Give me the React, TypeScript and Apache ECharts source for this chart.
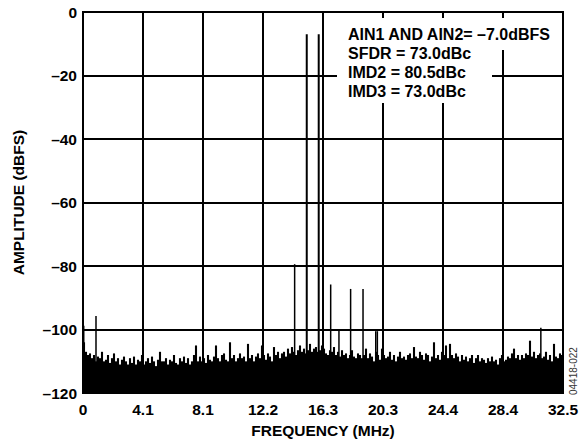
import React, { useEffect, useRef } from "react";
import * as echarts from "echarts";

// Frequency axis (MHz): 0 .. fs/2 with 8 divisions
const FREQ_MAX = 32.5;
const FREQ_TICKS = ["0", "4.1", "8.1", "12.2", "16.3", "20.3", "24.4", "28.4", "32.5"];
const AMP_TICKS = ["–120", "–100", "–80", "–60", "–40", "–20", "0"];

// Noise floor of the FFT (dBFS), one value per displayed bin group
const NOISE_DB = [
  -104, -107, -108, -107.5, -109, -108, -110, -108.5, -109, -107, -110, -109.5, -108, -110.5, -109, -107.5, -110, -109, -111, -109.5,
  -108.5, -110, -111, -109, -110.5, -108.5, -111, -109.5, -110, -108, -111, -110, -109, -110.5, -108.5, -110, -111.5, -109.5, -107, -110,
  -110, -109, -111, -109.5, -110, -108, -110.5, -111, -109, -110, -108.5, -110.5, -109, -111, -110, -108, -105, -110, -108.5, -110,
  -109, -110.5, -108, -109.5, -110, -108.5, -105, -109, -110, -108, -107.5, -109.5, -110, -104, -109, -108, -110, -109, -107.5, -109,
  -108.5, -110, -104.5, -109, -108, -110, -108.5, -107.5, -109, -105, -108, -109.5, -107.5, -108.5, -110, -105.5, -108, -107, -109, -107.5,
  -107, -108.5, -106, -107.5, -105.5, -107, -108, -106.5, -105, -107, -106, -107.5, -106.5, -104.5, -107, -106, -105.5, -107, -106.5, -105,
  -106, -107.5, -108, -106.5, -107, -105.5, -108, -107, -108.5, -106.5, -108, -107.5, -109, -108, -106.5, -108.5, -109, -107.5, -108, -109,
  -108, -106, -109, -107.5, -108.5, -110, -107, -108, -109.5, -106, -108, -109, -108.5, -107, -109.5, -108, -110, -108.5, -107, -109,
  -108.5, -109.5, -108, -107.5, -109, -105.5, -108.5, -109, -107, -108, -109.5, -107.5, -108, -110, -108.5, -104, -109, -108, -109.5, -107,
  -108, -105, -109, -104.5, -108, -109, -107.5, -108.5, -110, -108, -109.5, -108.5, -110, -109, -108, -110.5, -109, -108, -110, -109,
  -109.5, -110.5, -109, -110, -108.5, -110, -109.5, -111, -109, -108, -110, -109.5, -108.5, -109, -107.5, -106, -109, -108, -109.5, -108,
  -109, -107.5, -108, -103.5, -108.5, -107, -109, -108, -107.5, -109, -108.5, -107, -109.5, -108, -110, -104.5, -108.5, -109, -107.5, -108,
];

// Two input tones
const TONE_FREQ = [15.15, 15.96];
const TONE_DB = [-7.0, -7.0];

// Spurs: DC, low-frequency spur, IMD products and harmonics
const SPUR_FREQ = [0.05, 0.88, 14.33, 16.77, 17.33, 18.12, 18.96, 19.82, 19.93, 31.0];
const SPUR_DB = [-98.8, -95.7, -79.4, -85.8, -100.3, -87.2, -87.2, -100.5, -100.5, -99.4];

const NOTES = [
  "AIN1 AND AIN2= –7.0dBFS",
  "SFDR = 73.0dBc",
  "IMD2 = 80.5dBc",
  "IMD3 = 73.0dBc",
];

const FONT = "'Liberation Sans', Arial, Helvetica, sans-serif";
const AMP_MIN = -120;

function stemRenderer(width: number) {
  return (_params: any, api: any) => {
    const f = api.value(0);
    const db = api.value(1);
    const top = api.coord([f, db]);
    const base = api.coord([f, AMP_MIN]);
    return {
      type: "line",
      shape: { x1: top[0], y1: top[1], x2: base[0], y2: base[1] },
      style: { stroke: "#000", lineWidth: width },
    };
  };
}

export default function App() {
  const ref = useRef<HTMLDivElement>(null);

  useEffect(() => {
    if (!ref.current) return;
    const chart = echarts.init(ref.current, undefined, { renderer: "svg" });
    const binStep = FREQ_MAX / NOISE_DB.length;
    const noise = NOISE_DB.map((v, i) => [(i + 0.5) * binStep, v]);
    const tones = TONE_FREQ.map((f, i) => [f, TONE_DB[i]]);
    const spurs = SPUR_FREQ.map((f, i) => [f, SPUR_DB[i]]);
    const step = FREQ_MAX / (FREQ_TICKS.length - 1);

    chart.setOption({
      animation: false,
      backgroundColor: "#fff",
      grid: {
        left: 83,
        right: 19,
        top: 12,
        bottom: 47,
        show: true,
        borderColor: "#000",
        borderWidth: 2,
      },
      xAxis: {
        type: "value",
        min: 0,
        max: FREQ_MAX,
        interval: step,
        name: "FREQUENCY (MHz)",
        nameLocation: "middle",
        nameGap: 27,
        nameTextStyle: { fontFamily: FONT, fontWeight: "bold", fontSize: 15.5, color: "#000" },
        axisLine: { show: false },
        axisTick: { show: false },
        axisLabel: {
          margin: 8,
          fontFamily: FONT,
          fontWeight: "bold",
          fontSize: 15.5,
          color: "#000",
          showMaxLabel: true,
          showMinLabel: true,
          formatter: (v: number) => FREQ_TICKS[Math.round(v / step)] ?? "",
        },
        splitLine: { show: true, lineStyle: { color: "#000", width: 2 } },
      },
      yAxis: {
        type: "value",
        min: AMP_MIN,
        max: 0,
        interval: 20,
        name: "AMPLITUDE (dBFS)",
        nameLocation: "middle",
        nameGap: 57,
        nameTextStyle: { fontFamily: FONT, fontWeight: "bold", fontSize: 15.5, color: "#000" },
        axisLine: { show: false },
        axisTick: { show: false },
        axisLabel: {
          margin: 6,
          fontFamily: FONT,
          fontWeight: "bold",
          fontSize: 15.5,
          color: "#000",
          formatter: (v: number) => AMP_TICKS[Math.round((v - AMP_MIN) / 20)] ?? "",
        },
        splitLine: { show: true, lineStyle: { color: "#000", width: 2 } },
      },
      series: [
        {
          type: "custom",
          name: "noise",
          coordinateSystem: "cartesian2d",
          encode: { x: 0, y: 1 },
          renderItem: stemRenderer(2.1),
          data: noise,
          clip: true,
          z: 3,
        },
        {
          type: "custom",
          name: "spurs",
          coordinateSystem: "cartesian2d",
          encode: { x: 0, y: 1 },
          renderItem: stemRenderer(1.5),
          data: spurs,
          clip: true,
          z: 4,
        },
        {
          type: "custom",
          name: "tones",
          coordinateSystem: "cartesian2d",
          encode: { x: 0, y: 1 },
          renderItem: stemRenderer(2),
          data: tones,
          clip: true,
          z: 4,
        },
      ],
      graphic: [
        { type: "rect", z: 100, shape: { x: 337, y: 18, width: 216, height: 32 }, style: { fill: "#fff" } },
        { type: "rect", z: 100, shape: { x: 337, y: 18, width: 155, height: 85 }, style: { fill: "#fff" } },
        ...NOTES.map((t, i) => ({
          type: "text",
          z: 101,
          x: 348,
          y: 34 + i * 19.3,
          style: {
            text: t,
            fontFamily: FONT,
            fontWeight: "bold",
            fontSize: 16,
            fill: "#000",
            verticalAlign: "middle",
          },
        })),
        {
          type: "text",
          z: 101,
          x: 573,
          y: 395,
          rotation: Math.PI / 2,
          style: {
            text: "04418-022",
            fontFamily: FONT,
            fontSize: 10,
            fill: "#333",
            verticalAlign: "middle",
            align: "left",
          },
        },
      ],
    });
    return () => chart.dispose();
  }, []);

  return (
    <div
      ref={ref}
      style={{ position: "fixed", left: 0, top: 0, width: 582, height: 443 }}
    />
  );
}
